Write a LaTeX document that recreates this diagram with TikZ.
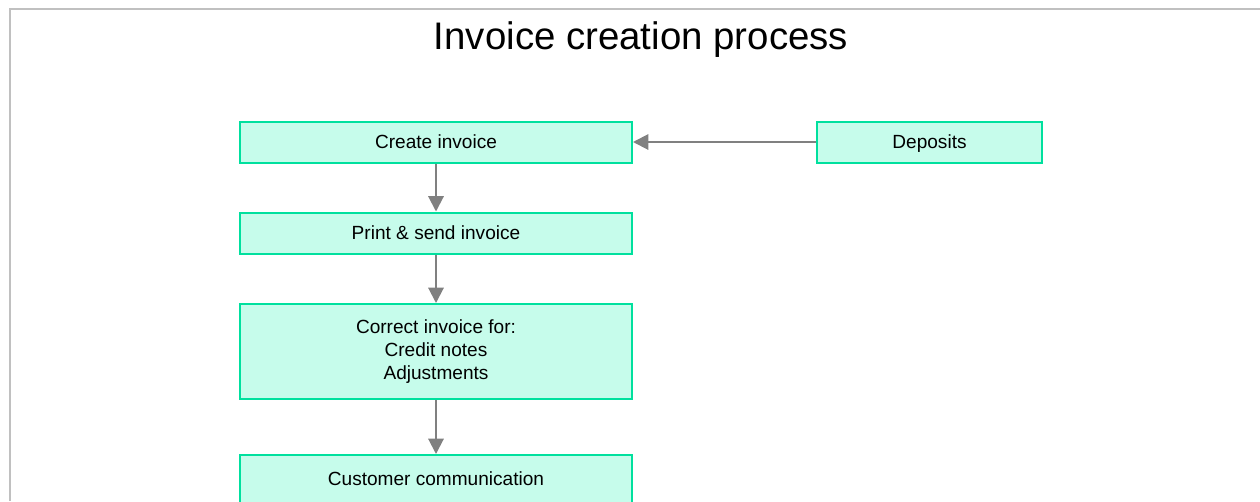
\documentclass[tikz,border=0pt]{standalone}
\usepackage{fontspec}
\setmainfont{Liberation Sans}
\usetikzlibrary{arrows.meta}
\definecolor{boxline}{HTML}{00E09E}
\definecolor{boxfill}{HTML}{C6FCEB}
\definecolor{arrowgray}{HTML}{808080}
\definecolor{framegray}{HTML}{C0C0C0}
\tikzset{
  procbox/.style={draw=boxline, fill=boxfill, line width=1.5pt, inner sep=0pt,
    minimum height=30.75pt, align=center,
    font=\fontsize{14.3pt}{17.25pt}\selectfont},
  oneline/.style={text height=10.3pt, text depth=1pt},
  flow/.style={draw=arrowgray, line width=1.5pt, -{Triangle[length=11.5pt,width=11.5pt]}}
}
\begin{document}
\begin{tikzpicture}[x=0.75pt,y=-0.75pt]
\useasboundingbox (0,0) rectangle (1260,501);
\fill[white] (0,0) rectangle (1260,501);
\draw[framegray, line width=1.5pt] (10,501) -- (10,8.5) -- (1260,8.5);
\node[anchor=base, font=\fontsize{28.8pt}{34pt}\selectfont] (title) at (641,49) {Invoice creation process};
\node[procbox, oneline, minimum width=294pt] (create) at (436,142) {Create invoice};
\node[procbox, oneline, minimum width=168.75pt] (deposits) at (929.5,142) {Deposits};
\node[procbox, oneline, minimum width=294pt] (print) at (436,233) {Print \& send invoice};
\node[procbox, minimum width=294pt, minimum height=71.25pt] (correct) at (436,351.5) {Correct invoice for:\\Credit notes\\Adjustments};
\node[procbox, text height=10.3pt, text depth=10.3pt, minimum width=294pt, minimum height=45pt] (customer) at (436,485) {Customer communication};
\draw[flow] (deposits.west) -- (create.east);
\draw[flow] (create.south) -- (print.north);
\draw[flow] (print.south) -- (correct.north);
\draw[flow] (correct.south) -- (customer.north);
\end{tikzpicture}
\end{document}
